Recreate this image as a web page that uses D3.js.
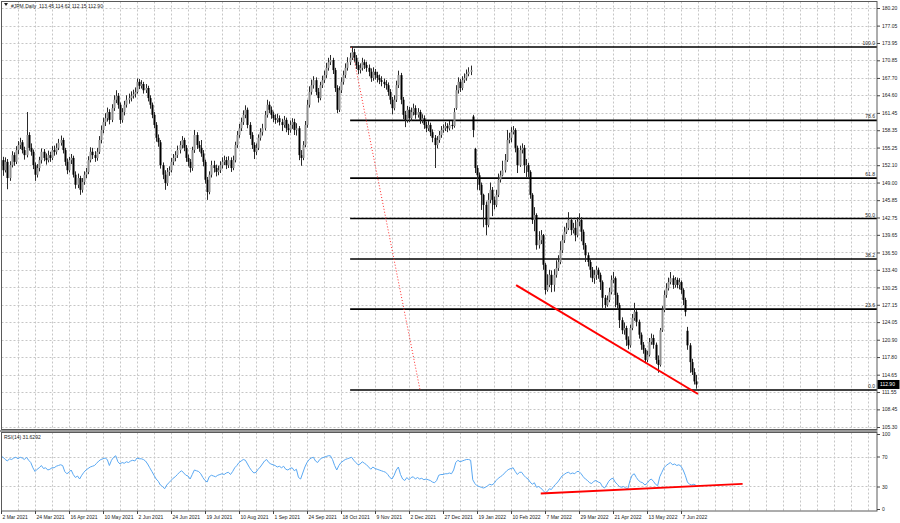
<!DOCTYPE html>
<html><head><meta charset="utf-8">
<script src="https://cdn.jsdelivr.net/npm/d3@7"></script>
<style>body{margin:0;background:#fff}svg{display:block}text{font-family:"Liberation Sans",Arial,sans-serif}</style>
</head><body><svg id="c" width="900" height="523"></svg>
<script>
// ---------- DATA ----------
const openP = [
152.0,153.0,151.2,152.7,149.8,152.1,153.9,152.7,154.8,155.7,
156.2,154.8,153.9,157.5,155.2,154.5,152.1,150.4,151.6,153.0,
154.5,153.4,153.0,153.9,153.4,154.8,154.5,155.2,156.1,156.6,
154.8,152.7,151.2,153.0,153.4,150.4,148.6,149.8,147.7,149.1,
150.4,150.9,153.0,154.5,153.9,153.4,154.5,156.6,158.4,159.8,
160.5,161.6,160.2,162.3,163.8,164.5,162.9,160.2,161.6,162.9,
163.8,164.1,164.5,164.8,165.2,167.0,166.3,166.6,165.5,165.9,
164.1,162.9,161.1,159.3,157.0,156.2,152.1,150.4,148.9,150.9,
151.2,152.7,153.4,153.9,154.8,155.7,156.6,155.2,153.4,152.7,
151.6,154.8,157.5,155.7,155.2,154.2,152.7,149.5,147.3,150.4,
152.1,151.6,150.9,151.2,152.1,152.7,153.0,152.1,153.0,151.6,
153.0,155.7,157.5,158.7,159.8,161.1,162.0,159.3,157.5,155.7,
154.5,155.2,157.0,158.0,158.7,161.1,162.9,162.0,161.1,160.5,
160.2,160.5,159.8,159.3,160.2,158.7,158.4,159.3,159.8,158.4,
158.7,153.9,153.4,155.7,159.3,162.9,165.2,166.4,167.3,165.2,
164.1,166.4,167.3,168.2,169.5,170.5,170.9,169.1,165.9,162.0,
165.5,167.0,168.2,169.5,170.5,171.3,172.3,171.3,170.0,169.1,
169.5,170.5,170.0,169.5,168.8,167.7,168.8,168.2,167.7,167.3,
167.0,166.6,166.4,165.2,163.8,162.3,163.8,166.4,168.2,163.8,
161.1,160.2,162.0,160.5,161.6,162.3,161.1,161.6,160.2,160.5,
159.3,158.7,159.3,158.0,157.0,155.7,156.6,157.5,158.4,158.7,
159.1,158.7,159.3,159.1,162.3,165.5,167.0,165.9,167.3,167.7,
168.4,168.8,160.8,155.0,151.6,150.3,148.6,146.8,145.0,141.4,
145.9,147.7,145.9,145.0,146.8,149.5,150.3,151.2,153.0,156.6,
157.0,158.0,158.4,155.2,152.1,154.8,155.2,152.1,152.1,150.9,
146.8,142.3,143.2,137.8,138.7,139.6,134.3,129.8,130.7,132.5,
130.7,132.5,133.7,134.8,136.9,138.7,140.2,140.9,142.3,140.5,
140.9,139.6,142.0,142.3,140.2,137.8,136.0,134.8,133.4,131.9,
132.5,133.4,132.5,131.2,128.4,127.1,128.0,129.4,131.6,131.9,
128.9,127.1,124.4,122.6,123.0,120.9,119.9,123.0,124.8,125.9,
124.1,121.8,120.0,119.1,117.3,118.2,120.5,121.2,120.0,117.3,
116.4,122.6,126.2,128.9,130.1,131.2,131.9,130.7,131.6,130.7,
131.2,129.8,128.0,122.5,119.9,116.9,115.1,113.45];
const highP = [
154.6,153.6,153.5,153.2,152.8,154.6,154.4,155.5,156.4,157.0,
156.6,155.4,161.6,158.0,156.0,154.9,152.6,152.3,153.6,155.1,
155.0,154.2,154.7,154.5,155.5,155.6,156.0,156.8,157.4,157.0,
155.2,153.3,153.6,154.1,153.8,151.0,150.6,150.2,149.8,151.0,
151.6,153.7,155.3,155.2,154.6,155.2,157.3,159.2,160.6,161.4,
162.4,162.1,163.0,164.6,165.5,165.0,163.3,162.3,163.6,164.6,
164.9,165.3,165.6,166.0,167.6,167.5,167.3,167.0,166.6,166.3,
164.6,163.3,161.6,159.8,157.6,156.6,152.6,151.2,151.6,151.9,
153.4,154.1,154.6,155.6,156.4,157.3,157.0,155.7,154.0,153.2,
155.4,158.4,158.0,156.4,156.6,154.8,153.1,150.0,151.0,152.9,
152.9,152.2,152.0,152.8,153.5,153.8,153.6,153.7,153.5,153.8,
156.3,158.2,159.5,160.6,161.9,162.8,162.4,159.8,158.0,156.2,
156.0,157.6,158.7,159.5,161.8,163.8,163.5,162.6,161.7,161.2,
161.3,161.0,160.4,160.9,160.6,159.5,160.1,160.5,160.4,159.6,
159.1,154.8,156.4,160.0,163.8,166.2,167.4,168.0,167.8,165.9,
167.0,168.1,169.0,170.4,171.3,171.8,171.3,169.5,166.4,166.2,
167.8,169.0,170.3,171.4,172.2,173.2,172.9,171.8,170.6,170.3,
171.3,171.0,170.6,170.1,169.4,169.6,169.3,168.8,168.3,168.0,
167.6,167.3,166.9,165.7,164.3,164.6,167.2,169.0,168.6,164.3,
161.8,162.7,162.5,162.4,163.1,162.8,162.3,162.0,161.2,161.0,
159.9,160.0,159.7,158.5,157.5,157.3,158.2,159.1,159.4,159.8,
159.6,160.0,160.0,162.3,166.4,167.8,167.5,168.0,168.5,169.2,
169.6,169.9,161.1,155.2,152.1,150.8,149.0,147.0,145.6,147.1,
149.0,148.2,146.5,147.7,150.6,151.1,152.9,154.1,158.4,157.9,
158.9,159.1,158.7,155.6,155.6,156.0,155.7,153.2,152.5,151.2,
147.1,144.6,143.5,140.3,140.5,139.8,134.6,132.6,133.4,133.3,
133.5,135.1,136.0,138.5,139.6,141.1,141.8,143.7,142.7,141.8,
142.3,142.8,143.5,142.8,140.6,138.2,136.5,135.2,133.9,133.4,
134.1,133.8,132.9,131.5,128.9,128.8,130.2,132.4,133.0,132.2,
129.3,127.5,124.9,124.0,123.4,121.5,123.6,125.5,127.5,126.2,
124.5,122.2,120.5,119.4,118.9,121.2,122.0,121.8,120.4,118.1,
123.0,126.9,129.7,131.0,132.0,133.0,132.4,132.1,132.0,131.9,
131.5,130.1,128.4,123.2,120.3,117.5,115.8,114.62];
const lowP = [
150.4,150.2,150.8,147.8,149.3,151.7,152.0,152.3,154.1,155.0,
154.2,153.1,153.5,154.7,153.8,151.4,149.3,149.9,151.0,152.4,
152.8,152.2,152.6,152.7,153.0,153.8,154.0,154.8,155.6,154.2,
152.0,150.5,150.8,152.3,149.9,147.9,148.0,146.8,147.2,148.6,
149.8,150.5,152.6,153.2,152.7,152.9,154.1,156.0,157.8,159.1,
159.9,159.4,159.8,161.8,163.2,162.2,159.5,159.7,161.0,162.4,
163.1,163.5,164.0,164.2,164.9,165.7,165.8,164.9,165.0,163.5,
162.2,160.5,158.7,156.3,155.4,151.5,149.6,147.7,148.4,150.2,
150.8,152.1,152.8,153.4,154.2,155.1,154.6,152.7,151.9,150.8,
151.1,154.3,155.0,154.5,153.6,151.9,148.8,145.9,146.9,149.9,
150.8,150.1,150.3,150.7,151.5,152.1,151.4,151.6,150.9,151.2,
152.6,155.2,157.0,158.2,159.3,160.5,158.7,156.8,155.0,153.2,
153.9,154.8,156.5,157.4,158.3,160.6,161.4,160.4,159.8,159.5,
159.7,159.2,158.2,158.8,158.0,157.5,157.9,158.6,157.5,157.4,
153.0,152.0,153.0,155.3,158.8,162.4,164.7,165.8,164.6,163.3,
163.7,165.9,166.8,167.7,169.0,170.0,168.4,165.2,161.4,161.6,
165.0,166.5,167.7,169.0,170.0,170.9,170.6,169.3,168.4,168.5,
169.0,169.3,168.8,168.0,167.0,167.2,167.4,166.9,166.6,166.2,
165.9,165.6,164.5,163.0,161.2,161.9,163.4,165.9,163.0,160.3,
158.9,159.7,159.8,160.0,161.0,160.4,160.6,159.5,159.6,158.6,
158.0,158.2,157.3,156.2,151.6,155.1,156.1,157.0,157.9,158.2,
158.0,158.3,158.5,158.8,162.0,164.9,165.2,165.5,166.8,167.2,
168.0,168.2,157.1,150.7,147.7,147.6,144.1,141.0,139.6,141.0,
145.3,143.0,144.2,144.6,146.4,149.0,150.1,150.8,152.7,156.0,
156.2,157.6,154.4,150.7,151.8,154.2,150.7,150.0,150.0,146.1,
141.6,140.3,137.0,137.2,138.0,133.4,129.0,129.5,130.3,129.4,
129.5,132.0,133.2,134.4,136.4,138.2,139.8,140.5,139.6,139.9,
138.5,139.2,141.2,138.5,137.0,134.8,134.0,132.0,131.2,130.9,
131.6,131.8,129.8,126.6,126.5,126.8,127.6,129.0,131.0,126.7,
126.3,123.0,121.9,121.8,119.8,119.2,119.5,122.6,124.3,123.3,
121.1,119.1,118.4,116.7,116.9,117.9,120.0,119.3,116.6,115.0,
116.1,122.3,125.8,128.4,129.7,130.8,130.0,130.2,130.1,129.9,
129.1,127.1,125.1,119.1,115.0,114.6,112.9,112.15];
const closeP = [
153.0,151.2,152.7,149.8,152.1,153.9,152.7,154.8,155.7,156.2,
154.8,153.9,157.5,155.2,154.5,152.1,150.4,151.6,153.0,154.5,
153.4,153.0,153.9,153.4,154.8,154.5,155.2,156.1,156.6,154.8,
152.7,151.2,153.0,153.4,150.4,148.6,149.8,147.7,149.1,150.4,
150.9,153.0,154.5,153.9,153.4,154.5,156.6,158.4,159.8,160.5,
161.6,160.2,162.3,163.8,164.5,162.9,160.2,161.6,162.9,163.8,
164.1,164.5,164.8,165.2,167.0,166.3,166.6,165.5,165.9,164.1,
162.9,161.1,159.3,157.0,156.2,152.1,150.4,148.9,150.9,151.2,
152.7,153.4,153.9,154.8,155.7,156.6,155.2,153.4,152.7,151.6,
154.8,157.5,155.7,155.2,154.2,152.7,149.5,147.3,150.4,152.1,
151.6,150.9,151.2,152.1,152.7,153.0,152.1,153.0,151.6,153.0,
155.7,157.5,158.7,159.8,161.1,162.0,159.3,157.5,155.7,154.5,
155.2,157.0,158.0,158.7,161.1,162.9,162.0,161.1,160.5,160.2,
160.5,159.8,159.3,160.2,158.7,158.4,159.3,159.8,158.4,158.7,
153.9,153.4,155.7,159.3,162.9,165.2,166.4,167.3,165.2,164.1,
166.4,167.3,168.2,169.5,170.5,170.9,169.1,165.9,162.0,165.5,
167.0,168.2,169.5,170.5,171.3,172.3,171.3,170.0,169.1,169.5,
170.5,170.0,169.5,168.8,167.7,168.8,168.2,167.7,167.3,167.0,
166.6,166.4,165.2,163.8,162.3,163.8,166.4,168.2,163.8,161.1,
160.2,162.0,160.5,161.6,162.3,161.1,161.6,160.2,160.5,159.3,
158.7,159.3,158.0,157.0,155.7,156.6,157.5,158.4,158.7,159.1,
158.7,159.3,159.1,161.6,165.5,167.0,165.9,167.3,167.7,168.4,
168.8,169.1,158.4,151.6,150.3,148.6,146.8,145.0,141.4,145.9,
147.7,145.9,145.0,146.8,149.5,150.3,151.2,153.0,156.6,157.0,
158.0,158.4,155.2,152.1,154.8,155.2,152.1,152.1,150.9,146.8,
142.3,143.2,137.8,138.7,139.6,134.3,129.8,130.7,132.5,130.7,
132.5,133.7,134.8,136.9,138.7,140.2,140.9,142.3,140.5,140.9,
139.6,142.0,142.3,140.2,137.8,136.0,134.8,133.4,131.9,132.5,
133.4,132.5,131.2,128.4,127.1,128.0,129.4,131.6,131.9,128.9,
127.1,124.4,122.6,123.0,120.9,119.9,123.0,124.8,125.9,124.1,
121.8,120.0,119.1,117.3,118.2,120.5,121.2,120.0,117.3,116.4,
122.6,126.2,128.9,130.1,131.2,131.9,130.7,131.6,130.7,131.2,
129.8,128.0,125.9,119.9,116.9,115.1,113.45,112.90];
const rsi14 = [
70,69,66,64,67,66,68,69,67,69,
68,66,69,65,62,55,50,53,55,58,
54,55,52,53,55,55,57,58,59,58,
50,47,49,52,46,42,44,40,45,49,
52,54,56,57,58,61,64,66,67,68,
66,58,65,69,71,63,60,62,61,63,
62,64,65,64,68,67,67,66,64,60,
55,50,45,40,37,32,30,27,32,35,
38,41,43,46,49,51,48,45,44,40,
46,52,51,50,47,42,38,36,43,45,
44,43,45,46,47,46,48,49,46,50,
55,58,62,64,66,65,60,55,51,48,
49,53,56,60,64,66,62,60,59,58,
56,57,55,57,53,52,54,55,51,53,
42,40,48,56,62,66,68,69,64,62,
66,68,69,70,71,71,66,58,52,58,
62,64,66,67,68,69,65,62,59,60,
63,61,59,56,53,56,54,53,52,51,
50,49,46,42,40,45,52,56,46,40,
38,42,39,42,43,40,42,40,41,39,
40,39,38,36,35,38,45,46,46,47,
47,48,47,52,62,65,63,64,65,66,
66,65,39,34,31,30,29,28,29,31,
33,32,34,38,41,43,45,48,51,53,
54,55,50,46,49,49,45,42,40,36,
33,35,29,30,28,25,22,23,27,26,
30,33,36,40,44,46,48,49,47,48,
47,50,50,47,43,40,38,35,34,37,
38,36,35,30,28,32,37,40,41,36,
33,30,29,30,28,27,38,45,47,42,
38,36,35,32,34,38,40,37,33,31,
43,49,55,58,60,62,59,60,58,59,
57,52,45,36,33,32,33,31.63];
const priceTicks = [180.20,177.05,173.95,170.85,167.70,164.60,161.45,158.35,155.25,152.10,149.00,145.85,142.75,139.65,136.50,133.40,130.25,127.15,124.05,120.90,117.80,114.65,111.55,108.45,105.30];
const rsiTicks = [100,70,30,0];
const rsiGrid = [70,30];
const dateLabels = ["2 Mar 2021","24 Mar 2021","16 Apr 2021","10 May 2021","2 Jun 2021","24 Jun 2021","19 Jul 2021","10 Aug 2021","1 Sep 2021","24 Sep 2021","18 Oct 2021","9 Nov 2021","2 Dec 2021","27 Dec 2021","19 Jan 2022","10 Feb 2022","7 Mar 2022","29 Mar 2022","21 Apr 2022","13 May 2022","7 Jun 2022"];
const dateBarIndex = [0,16,32,48,64,80,96,112,128,144,160,176,192,208,224,240,256,272,288,304,320];
const fibLevels = [100.0,78.6,61.8,50.0,38.2,23.6,0.0];
const fibAnchorHigh = [165, 173.23];   // [bar index, price]
const fibAnchorLow  = [197.2, 111.91];
const trendPrice = [[242.4,130.68],[328.0,111.2]];
const trendRsi   = [[254.0,20.6],[349.0,33.5]];
const headerText = "#JPM,Daily  113.45 114.62 112.15 112.90";
const rsiText = "RSI(14) 31.6292";
const lastPrice = 112.90;

// ---------- LAYOUT ----------
const svg = d3.select("#c");
const L = 1.5, R = 877, T = 1.5, MB = 429.5, RT = 432.5, RB = 511;
const x = d3.scaleLinear().domain([0, 412]).range([1, 876.5]);
const y = d3.scaleLinear().domain([105.30, 180.20]).range([427, 8]);
const yr = d3.scaleLinear().domain([0, 100]).range([509, 434]);
const FS = 5.8, FSX = 5.0;

const defs = svg.append("defs");
defs.append("clipPath").attr("id","cm").append("rect").attr("x",L).attr("y",T).attr("width",R-L).attr("height",MB-T);
defs.append("clipPath").attr("id","cr").append("rect").attr("x",L).attr("y",RT).attr("width",R-L).attr("height",RB-RT);

const gridColor = "#c6c6c6";
const vIdx = d3.range(8, 412, 8);

// main grid
const gm = svg.append("g").attr("clip-path","url(#cm)");
gm.selectAll("line.h").data(priceTicks).join("line")
  .attr("x1",L).attr("x2",R).attr("y1",d=>Math.round(y(d))+0.5).attr("y2",d=>Math.round(y(d))+0.5)
  .attr("stroke",gridColor).attr("stroke-dasharray","2,2");
gm.selectAll("line.v").data(vIdx).join("line")
  .attr("x1",d=>Math.round(x(d))+0.5).attr("x2",d=>Math.round(x(d))+0.5).attr("y1",T).attr("y2",MB)
  .attr("stroke",gridColor).attr("stroke-dasharray","2,2");

// rsi grid
const gr = svg.append("g").attr("clip-path","url(#cr)");
gr.selectAll("line.h").data(rsiGrid).join("line")
  .attr("x1",L).attr("x2",R).attr("y1",d=>Math.round(yr(d))+0.5).attr("y2",d=>Math.round(yr(d))+0.5)
  .attr("stroke",gridColor).attr("stroke-dasharray","2,2");
gr.selectAll("line.v").data(vIdx).join("line")
  .attr("x1",d=>Math.round(x(d))+0.5).attr("x2",d=>Math.round(x(d))+0.5).attr("y1",RT).attr("y2",RB)
  .attr("stroke",gridColor).attr("stroke-dasharray","2,2");

// fibonacci
const fibP = lv => fibAnchorLow[1] + (fibAnchorHigh[1]-fibAnchorLow[1]) * lv/100;
const gf = gm.append("g");
gf.selectAll("line").data(fibLevels).join("line")
  .attr("x1", x(fibAnchorHigh[0]) - 1.5).attr("x2", R)
  .attr("y1", d=>y(fibP(d))).attr("y2", d=>y(fibP(d)))
  .attr("stroke","#000").attr("stroke-width",1.7);
gf.selectAll("text").data(fibLevels).join("text")
  .attr("x", R-2).attr("y", d=>y(fibP(d))-2).attr("text-anchor","end")
  .attr("font-size",FSX).attr("fill","#222").text(d=>d.toFixed(1));
gm.append("line")
  .attr("x1",x(fibAnchorHigh[0])).attr("y1",y(fibAnchorHigh[1]))
  .attr("x2",x(fibAnchorLow[0])).attr("y2",y(fibAnchorLow[1]))
  .attr("stroke","#ff2a2a").attr("stroke-width",1).attr("stroke-dasharray","1,2");

// candles
const bars = d3.range(closeP.length).map(i=>({i,o:openP[i],h:highP[i],l:lowP[i],c:closeP[i]}));
const gc = gm.append("g");
gc.selectAll("line").data(bars).join("line")
  .attr("x1",d=>Math.round(x(d.i))+0.5).attr("x2",d=>Math.round(x(d.i))+0.5)
  .attr("y1",d=>y(d.h)).attr("y2",d=>y(d.l)).attr("stroke","#2a2a2a").attr("stroke-width",1);
gc.selectAll("rect").data(bars).join("rect")
  .attr("x",d=>Math.round(x(d.i))-0.5).attr("width",2)
  .attr("y",d=>y(Math.max(d.o,d.c))).attr("height",d=>Math.max(1,Math.abs(y(d.o)-y(d.c))))
  .attr("fill",d=>d.c>=d.o?"#8f8f8f":"#000");

// red trend line (price)
gm.append("line")
  .attr("x1",x(trendPrice[0][0])).attr("y1",y(trendPrice[0][1]))
  .attr("x2",x(trendPrice[1][0])).attr("y2",y(trendPrice[1][1]))
  .attr("stroke","#ff0000").attr("stroke-width",2);

// RSI line
gr.append("path").datum(rsi14)
  .attr("d", d3.line().x((d,i)=>x(i)).y(d=>yr(d)))
  .attr("fill","none").attr("stroke","#5aa8f2").attr("stroke-width",1);
gr.append("line")
  .attr("x1",x(trendRsi[0][0])).attr("y1",yr(trendRsi[0][1]))
  .attr("x2",x(trendRsi[1][0])).attr("y2",yr(trendRsi[1][1]))
  .attr("stroke","#ff0000").attr("stroke-width",2);

// frames
svg.append("rect").attr("x",L).attr("y",T).attr("width",R-L).attr("height",MB-T)
  .attr("fill","none").attr("stroke","#5a5a5a");
svg.append("rect").attr("x",0).attr("y",MB+0.5).attr("width",R+0.5).attr("height",RT-MB-1)
  .attr("fill","#9a9a9a");
svg.append("rect").attr("x",L).attr("y",RT).attr("width",R-L).attr("height",RB-RT)
  .attr("fill","none").attr("stroke","#5a5a5a");

// axes
function styleAxis(g, fs){
  g.select(".domain").remove();
  g.selectAll(".tick line").attr("stroke","#444");
  g.selectAll(".tick text").attr("font-size",fs).attr("fill","#222")
    .attr("font-family",'"Liberation Sans",Arial,sans-serif');
}
svg.append("g").attr("transform",`translate(${R},0)`)
  .call(d3.axisRight(y).tickValues(priceTicks).tickFormat(d3.format(".2f")).tickSize(3).tickPadding(2))
  .call(styleAxis, FSX);
svg.append("g").attr("transform",`translate(${R},0)`)
  .call(d3.axisRight(yr).tickValues(rsiTicks).tickFormat(d3.format("d")).tickSize(3).tickPadding(2))
  .call(styleAxis, FSX);
const xa = svg.append("g").attr("transform",`translate(0,${RB})`)
  .call(d3.axisBottom(x).tickValues(dateBarIndex).tickFormat((d,k)=>dateLabels[k]).tickSize(3).tickPadding(1))
  .call(styleAxis, FSX);
xa.selectAll(".tick text").attr("text-anchor","start").attr("dx",1);

// last price marker
const lp = svg.append("g").attr("transform",`translate(${R},${y(lastPrice)})`);
lp.append("rect").attr("x",0.5).attr("y",-4.5).attr("width",22).attr("height",9).attr("fill","#000");
lp.append("text").attr("x",3).attr("y",2).attr("font-size",FSX).attr("fill","#fff").text(lastPrice.toFixed(2));

// header texts
svg.append("path").attr("d","M4,3 L8,3 L6,6 Z").attr("fill","#222");
svg.append("text").attr("x",11).attr("y",7.5).attr("font-size",FSX).attr("fill","#222")
  .attr("xml:space","preserve").style("white-space","pre").text(headerText);
svg.append("text").attr("x",4).attr("y",439).attr("font-size",FSX).attr("fill","#222").text(rsiText);
</script></body></html>
